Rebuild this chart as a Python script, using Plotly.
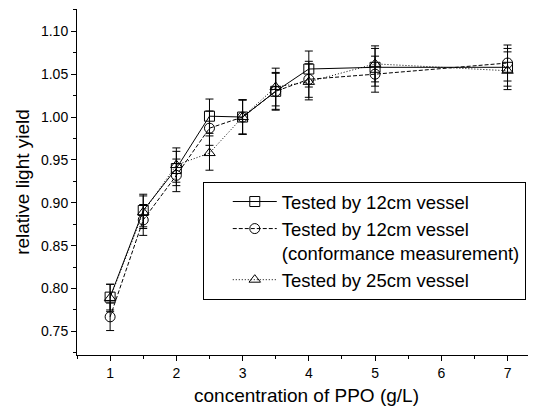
import plotly.graph_objects as go

ppo = [1, 1.5, 2, 2.5, 3, 3.5, 4, 5, 7]
y_12cm = [0.790, 0.891, 0.940, 1.001, 1.000, 1.030, 1.056, 1.058, 1.058]
e_12cm = [0.015, 0.019, 0.020, 0.020, 0.020, 0.022, 0.021, 0.022, 0.022]
y_conf = [0.767, 0.880, 0.932, 0.987, 1.000, 1.030, 1.044, 1.050, 1.063]
e_conf = [0.016, 0.018, 0.019, 0.020, 0.020, 0.021, 0.021, 0.021, 0.021]
y_25cm = [0.789, 0.889, 0.944, 0.958, 1.000, 1.035, 1.041, 1.062, 1.054]
e_25cm = [0.016, 0.019, 0.020, 0.020, 0.020, 0.022, 0.021, 0.021, 0.022]

names = ["Tested by 12cm vessel",
         "Tested by 12cm vessel<br>(conformance measurement)",
         "Tested by 25cm vessel"]
symbols = ["square-open", "circle-open", "triangle-up-open"]
dashes = ["solid", "4px,2px", "1px,2px"]
ys = [y_12cm, y_conf, y_25cm]
es = [e_12cm, e_conf, e_25cm]

fig = go.Figure()
for name, sym, dash, y, e in zip(names, symbols, dashes, ys, es):
    fig.add_trace(go.Scatter(
        x=ppo, y=y, name=name, mode="lines+markers",
        line=dict(color="black", width=1, dash=dash),
        marker=dict(symbol=sym, size=10, color="black", line=dict(width=1, color="black")),
        error_y=dict(type="data", array=e, visible=True, color="black", thickness=1, width=4),
    ))

font_family = "Liberation Sans, Arial, sans-serif"
# page body has an 8px margin, so the figure is 8px smaller than the window
fig.update_layout(
    width=528, height=401,
    margin=dict(l=69, r=0, t=1, b=54),
    paper_bgcolor="white", plot_bgcolor="white",
    font=dict(family=font_family, color="black", size=14),
    showlegend=True,
    legend=dict(
        x=0.274, y=0.5, xanchor="left", yanchor="top",
        bordercolor="black", borderwidth=1, bgcolor="white",
        font=dict(size=18.5, family=font_family),
        valign="top", tracegroupgap=0, indentation=24, itemwidth=44,
    ),
    xaxis=dict(
        range=[0.5, 7.43], showline=True, linecolor="black", linewidth=1,
        ticks="outside", ticklen=5, tickwidth=1, tickcolor="black",
        dtick=1, tick0=0, showgrid=False, zeroline=False, mirror=False,
        minor=dict(dtick=0.5, ticks="outside", ticklen=3, tickcolor="black"),
        title=dict(text="concentration of PPO (g/L)", font=dict(size=19), standoff=8),
        automargin=False,
    ),
    yaxis=dict(
        range=[0.7225, 1.126], showline=True, linecolor="black", linewidth=1,
        ticks="outside", ticklen=5, tickwidth=1, tickcolor="black",
        tickvals=[0.75, 0.80, 0.85, 0.90, 0.95, 1.00, 1.05, 1.10],
        tickformat=".2f", showgrid=False, zeroline=False, mirror=False,
        minor=dict(dtick=0.025, tick0=0, ticks="outside", ticklen=3, tickcolor="black"),
        title=dict(text="relative light yield", font=dict(size=19), standoff=6),
        automargin=False,
    ),
)

fig.write_html("out.html")
